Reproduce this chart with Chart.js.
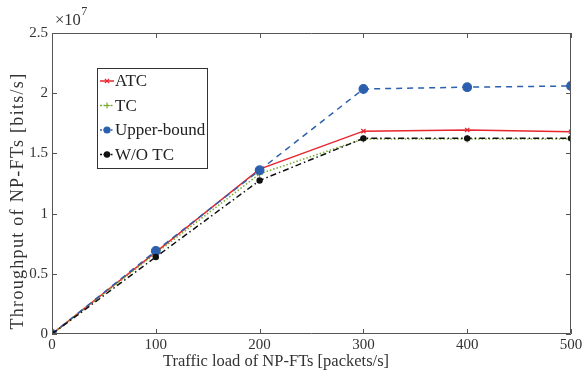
<!DOCTYPE html>
<html>
<head>
<meta charset="utf-8">
<script src="https://cdn.jsdelivr.net/npm/chart.js@4"></script>
<style>
  body { margin: 0; background: #fff; }
  #wrap { width: 582px; height: 377px; }
</style>
</head>
<body>
<div id="wrap"><canvas id="throughput-canvas" width="582" height="377"></canvas></div>
<script>
// traffic load (packets/s) and throughput (x 10^7 bits/s)
var loads = [0, 100, 200, 300, 400, 500];
var atcValues = [0, 0.68, 1.37, 1.685, 1.695, 1.68];
var tcValues = [0, 0.67, 1.33, 1.62, 1.62, 1.62];
var upperValues = [0, 0.69, 1.36, 2.035, 2.05, 2.06];
var wotcValues = [0, 0.64, 1.275, 1.625, 1.625, 1.625];
var yTicks = [0, 0.5, 1, 1.5, 2, 2.5];
var xTicks = [0, 100, 200, 300, 400, 500];

var serif = "'Liberation Serif', 'Times New Roman', serif";
var axisColor = '#555';
var textColor = '#333';

function toPoints(vals) {
    return vals.map(function (v, i) { return { x: loads[i], y: v }; });
}

var series = [
    { label: 'ATC', data: atcValues, color: '#e8242c', dash: [], style: 'crossRot', radius: 3, width: 1.5 },
    { label: 'TC', data: tcValues, color: '#77ac30', dash: [1.5, 2], style: 'cross', radius: 3.5, width: 1.5 },
    { label: 'Upper-bound', data: upperValues, color: '#2c5fae', dash: [6, 5], style: 'circle', radius: 4.3, width: 1.5 },
    { label: 'W/O TC', data: wotcValues, color: '#111', dash: [6, 3, 1.5, 3], style: 'circle', radius: 2.6, width: 1.5 }
];

// box, inward ticks, axis titles, exponent and legend
var decorPlugin = {
    id: 'decor',
    afterDraw: function (chart) {
        var ctx = chart.ctx, a = chart.chartArea;
        var xs = chart.scales.x, ys = chart.scales.y;
        ctx.save();
        ctx.strokeStyle = axisColor;
        ctx.lineWidth = 1;
        ctx.beginPath();
        ctx.rect(a.left + 0.5, a.top + 0.5, a.right - a.left - 1, a.bottom - a.top - 1);
        xTicks.forEach(function (t) {
            var px = Math.round(xs.getPixelForValue(t)) + 0.5;
            ctx.moveTo(px, a.bottom); ctx.lineTo(px, a.bottom - 5);
            ctx.moveTo(px, a.top); ctx.lineTo(px, a.top + 5);
        });
        yTicks.forEach(function (t) {
            var py = Math.round(ys.getPixelForValue(t)) + 0.5;
            ctx.moveTo(a.left, py); ctx.lineTo(a.left + 5, py);
            ctx.moveTo(a.right, py); ctx.lineTo(a.right - 5, py);
        });
        ctx.stroke();

        ctx.fillStyle = textColor;
        ctx.textAlign = 'center';
        ctx.textBaseline = 'middle';

        // axis titles
        ctx.font = '16.5px ' + serif;
        ctx.fillText('Traffic load of NP-FTs [packets/s]', 276, 362);
        ctx.save();
        ctx.translate(18, 201);
        ctx.rotate(-Math.PI / 2);
        ctx.font = '18px ' + serif;
        ctx.letterSpacing = '1.3px';
        ctx.fillText('Throughput of NP-FTs [bits/s]', 0, 0);
        ctx.restore();

        // exponent
        ctx.letterSpacing = '0px';
        ctx.textAlign = 'left';
        ctx.textBaseline = 'alphabetic';
        ctx.font = '16.5px ' + serif;
        ctx.fillText('\u00d710', 55, 25);
        var w = ctx.measureText('\u00d710').width;
        ctx.font = '12px ' + serif;
        ctx.fillText('7', 55 + w + 0.5, 15);

        // legend
        var bx = 97, by = 68, bw = 110, bh = 100;
        ctx.fillStyle = '#fff';
        ctx.fillRect(bx, by, bw, bh);
        ctx.strokeStyle = '#333';
        ctx.lineWidth = 1;
        ctx.strokeRect(bx + 0.5, by + 0.5, bw, bh);
        ctx.font = '17px ' + serif;
        ctx.textBaseline = 'middle';
        series.forEach(function (s, i) {
            var y = by + 13 + i * 24.5;
            ctx.strokeStyle = s.color;
            ctx.fillStyle = s.color;
            ctx.lineWidth = 1.5;
            ctx.setLineDash(s.dash.length ? [2, 1.5] : []);
            ctx.beginPath();
            ctx.moveTo(bx + 3, y); ctx.lineTo(bx + 17, y);
            ctx.stroke();
            ctx.setLineDash([]);
            ctx.lineWidth = 1.2;
            Chart.helpers.drawPoint(ctx, {
                pointStyle: s.style, radius: Math.min(s.radius, 3), borderWidth: 1.2
            }, bx + 10, y);
            ctx.fillStyle = '#222';
            ctx.fillText(s.label, bx + 18, y + 1);
        });
        ctx.restore();
    }
};

var config = {
    type: 'line',
    data: {
        datasets: series.map(function (s) {
            return {
                label: s.label,
                data: toPoints(s.data),
                borderColor: s.color,
                backgroundColor: s.color,
                borderWidth: s.width,
                borderDash: s.dash,
                pointStyle: s.style,
                pointRadius: s.radius,
                pointBorderWidth: 1.2,
                pointBorderColor: s.color,
                pointBackgroundColor: s.color,
                tension: 0,
                fill: false
            };
        }).reverse()
    },
    options: {
        responsive: false,
        animation: false,
        layout: { padding: { left: 0, right: 11, top: 33, bottom: 0 } },
        plugins: {
            legend: { display: false },
            tooltip: { enabled: false }
        },
        scales: {
            x: {
                type: 'linear',
                min: 0,
                max: 500,
                afterBuildTicks: function (s) { s.ticks = xTicks.map(function (v) { return { value: v }; }); },
                afterFit: function (s) { s.height = 43; s.paddingLeft = 0; s.paddingRight = 0; },
                grid: { display: false, drawTicks: false },
                border: { display: false },
                ticks: { color: textColor, font: { family: serif, size: 15 }, padding: 2, maxRotation: 0 }
            },
            y: {
                min: 0,
                max: 2.5,
                afterBuildTicks: function (s) { s.ticks = yTicks.map(function (v) { return { value: v }; }); },
                afterFit: function (s) { s.width = 52; s.paddingTop = 0; s.paddingBottom = 0; },
                grid: { display: false, drawTicks: false },
                border: { display: false },
                ticks: { color: textColor, font: { family: serif, size: 15 }, padding: 4,
                    callback: function (v) { return String(v); } }
            }
        }
    },
    plugins: [decorPlugin]
};

var ctx = document.getElementById('throughput-canvas').getContext('2d');
window.throughputChart = new Chart(ctx, config);
</script>
</body>
</html>
